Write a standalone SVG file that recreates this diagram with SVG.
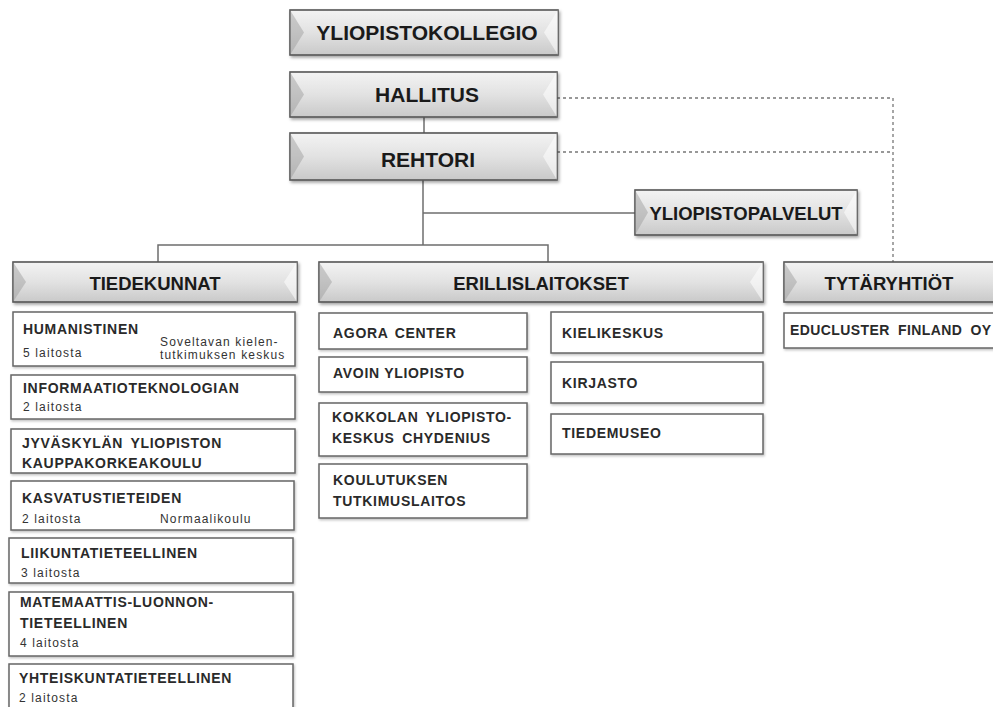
<svg xmlns="http://www.w3.org/2000/svg" width="993" height="707" viewBox="0 0 993 707">
<defs>
<linearGradient id="hg" x1="0" y1="0" x2="0" y2="1">
<stop offset="0" stop-color="#f3f3f3"/>
<stop offset="0.5" stop-color="#e2e2e2"/>
<stop offset="1" stop-color="#c9c9c9"/>
</linearGradient>
<filter id="sh" x="-5%" y="-10%" width="115%" height="140%">
<feDropShadow dx="1.5" dy="2" stdDeviation="1.5" flood-color="#000" flood-opacity="0.35"/>
</filter>
<filter id="sh2" x="-5%" y="-10%" width="115%" height="140%">
<feDropShadow dx="1" dy="1.5" stdDeviation="1" flood-color="#000" flood-opacity="0.25"/>
</filter>
</defs>
<style>
.hb{fill:url(#hg);stroke:#555;stroke-width:1.6;filter:url(#sh)}
.bl{fill:#9a9a9a;opacity:0.45}
.br{fill:#ffffff;opacity:0.55}
.sb{fill:#fff;stroke:#666;stroke-width:1.5;filter:url(#sh2)}
.t1{font-family:"Liberation Sans",Arial,sans-serif;font-weight:bold;font-size:21px;fill:#1a1a1a;text-anchor:middle}
.t2{font-family:"Liberation Sans",Arial,sans-serif;font-weight:bold;font-size:18.5px;fill:#1a1a1a;text-anchor:middle}
.tb{font-family:"Liberation Sans",Arial,sans-serif;font-weight:bold;font-size:14px;letter-spacing:0.7px;fill:#2a2a2a}
.tr{font-family:"Liberation Sans",Arial,sans-serif;font-size:12px;letter-spacing:1.15px;fill:#333}
.ln{fill:none;stroke:#6e6e6e;stroke-width:1.5}
.dl{fill:none;stroke:#777;stroke-width:1.3;stroke-dasharray:3 3}
</style>
<rect width="993" height="707" fill="#fff"/>

<g id="connectors">
<path class="ln" d="M424 117V133"/>
<path class="ln" d="M423 180V245"/>
<path class="ln" d="M423 213H635"/>
<path class="ln" d="M158 262V245H548V262"/>
<path class="dl" d="M557 98H893V262"/>
<path class="dl" d="M557 152H893"/>
</g>

<g id="yliopistokollegio">
<rect class="hb" x="290" y="10" width="268" height="45"/>
<polygon class="bl" points="290,10 304,32.5 290,55"/>
<polygon class="br" points="558,10 544,32.5 558,55"/>
<text class="t1" x="427" y="40">YLIOPISTOKOLLEGIO</text>
</g>

<g id="hallitus">
<rect class="hb" x="290" y="72" width="267" height="45"/>
<polygon class="bl" points="290,72 304,94.5 290,117"/>
<polygon class="br" points="557,72 543,94.5 557,117"/>
<text class="t1" x="427" y="102">HALLITUS</text>
</g>

<g id="rehtori">
<rect class="hb" x="290" y="133" width="267" height="47"/>
<polygon class="bl" points="290,133 304,156.5 290,180"/>
<polygon class="br" points="557,133 543,156.5 557,180"/>
<text class="t1" x="428" y="167">REHTORI</text>
</g>

<g id="yliopistopalvelut">
<rect class="hb" x="635" y="190" width="222" height="45"/>
<polygon class="bl" points="635,190 648,212.5 635,235"/>
<polygon class="br" points="857,190 844,212.5 857,235"/>
<text class="t2" x="746" y="220">YLIOPISTOPALVELUT</text>
</g>

<g id="tiedekunnat">
<rect class="hb" x="13" y="262" width="284" height="40"/>
<polygon class="bl" points="13,262 26,282 13,302"/>
<polygon class="br" points="297,262 284,282 297,302"/>
<text class="t2" x="155" y="290">TIEDEKUNNAT</text>
</g>

<g id="erillislaitokset">
<rect class="hb" x="319" y="262" width="444" height="40"/>
<polygon class="bl" points="319,262 332,282 319,302"/>
<polygon class="br" points="763,262 750,282 763,302"/>
<text class="t2" x="541" y="290">ERILLISLAITOKSET</text>
</g>

<g id="tytaryhtiot">
<rect class="hb" x="784" y="262" width="214" height="40"/>
<polygon class="bl" points="784,262 797,282 784,302"/>
<text class="t2" x="889" y="290">TYTÄRYHTIÖT</text>
</g>

<g id="humanistinen">
<rect class="sb" x="13" y="312" width="282" height="54"/>
<text class="tb" x="23" y="334">HUMANISTINEN</text>
<text class="tr" x="23" y="357">5 laitosta</text>
<text class="tr" x="160" y="346">Soveltavan kielen-</text>
<text class="tr" x="160" y="359">tutkimuksen keskus</text>
</g>

<g id="informaatioteknologian">
<rect class="sb" x="11" y="375" width="284" height="44"/>
<text class="tb" x="23" y="393">INFORMAATIOTEKNOLOGIAN</text>
<text class="tr" x="23" y="411">2 laitosta</text>
</g>

<g id="kauppakorkeakoulu">
<rect class="sb" x="11" y="429" width="284" height="44"/>
<text class="tb" x="22" y="448" word-spacing="3">JYVÄSKYLÄN YLIOPISTON</text>
<text class="tb" x="22" y="468">KAUPPAKORKEAKOULU</text>
</g>

<g id="kasvatustieteiden">
<rect class="sb" x="11" y="481" width="283" height="49"/>
<text class="tb" x="22" y="503">KASVATUSTIETEIDEN</text>
<text class="tr" x="22" y="523">2 laitosta</text>
<text class="tr" x="160" y="523">Normaalikoulu</text>
</g>

<g id="liikuntatieteellinen">
<rect class="sb" x="9" y="538" width="284" height="45"/>
<text class="tb" x="21" y="558">LIIKUNTATIETEELLINEN</text>
<text class="tr" x="21" y="577">3 laitosta</text>
</g>

<g id="matemaattis">
<rect class="sb" x="9" y="592" width="284" height="64"/>
<text class="tb" x="20" y="607">MATEMAATTIS-LUONNON-</text>
<text class="tb" x="20" y="628">TIETEELLINEN</text>
<text class="tr" x="20" y="647">4 laitosta</text>
</g>

<g id="yhteiskuntatieteellinen">
<rect class="sb" x="9" y="664" width="284" height="50"/>
<text class="tb" x="19" y="683">YHTEISKUNTATIETEELLINEN</text>
<text class="tr" x="19" y="702">2 laitosta</text>
</g>

<g id="agora">
<rect class="sb" x="319" y="313" width="208" height="36"/>
<text class="tb" x="333" y="338" word-spacing="2">AGORA CENTER</text>
</g>

<g id="avoin">
<rect class="sb" x="319" y="357" width="208" height="35"/>
<text class="tb" x="333" y="378">AVOIN YLIOPISTO</text>
</g>

<g id="kokkola">
<rect class="sb" x="319" y="403" width="208" height="53"/>
<text class="tb" x="332" y="422" word-spacing="3">KOKKOLAN YLIOPISTO-</text>
<text class="tb" x="332" y="443" word-spacing="3">KESKUS CHYDENIUS</text>
</g>

<g id="koulutuksen">
<rect class="sb" x="319" y="464" width="208" height="54"/>
<text class="tb" x="333" y="485">KOULUTUKSEN</text>
<text class="tb" x="333" y="506">TUTKIMUSLAITOS</text>
</g>

<g id="kielikeskus">
<rect class="sb" x="551" y="312" width="212" height="41"/>
<text class="tb" x="562" y="338">KIELIKESKUS</text>
</g>

<g id="kirjasto">
<rect class="sb" x="551" y="362" width="212" height="41"/>
<text class="tb" x="562" y="388">KIRJASTO</text>
</g>

<g id="tiedemuseo">
<rect class="sb" x="551" y="414" width="212" height="40"/>
<text class="tb" x="562" y="438">TIEDEMUSEO</text>
</g>

<g id="educluster">
<rect class="sb" x="784" y="313" width="214" height="35"/>
<text class="tb" x="790" y="335" word-spacing="4" style="letter-spacing:0.4px">EDUCLUSTER FINLAND OY</text>
</g>
</svg>
